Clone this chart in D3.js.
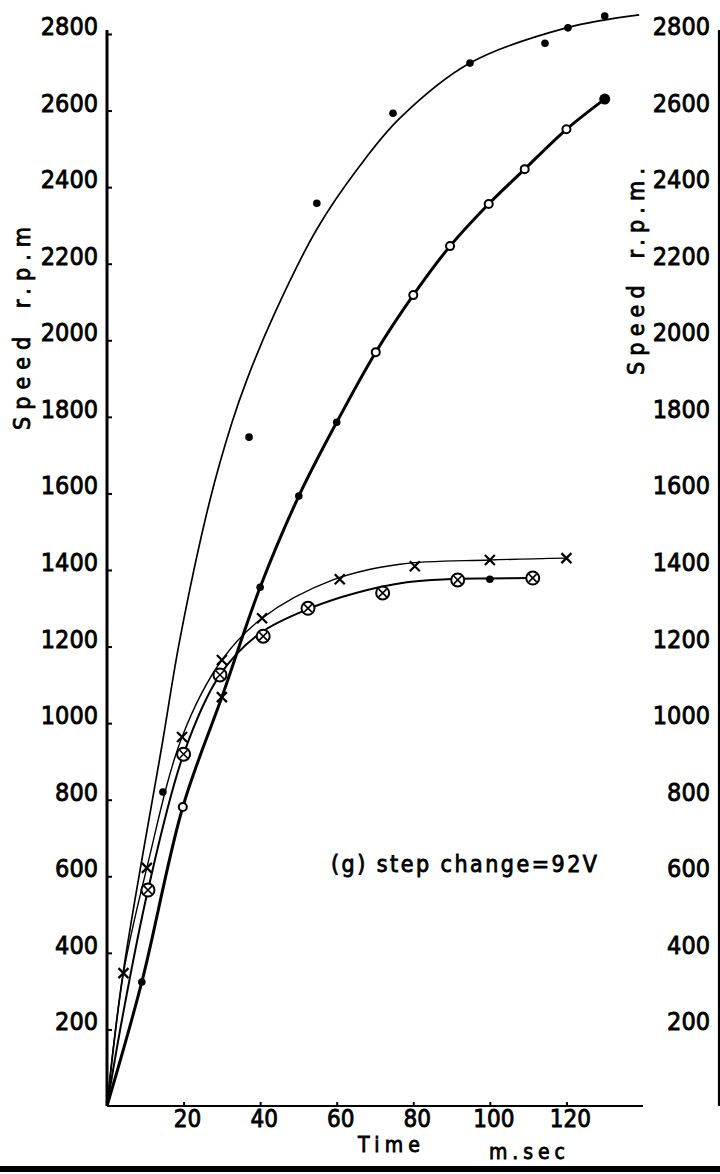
<!DOCTYPE html>
<html>
<head>
<meta charset="utf-8">
<script src="https://cdn.jsdelivr.net/npm/d3@7"></script>
<style>
  html, body { margin: 0; padding: 0; background: #fff; }
  svg { display: block; }
  text { font-family: "DejaVu Sans Condensed", "DejaVu Sans", sans-serif; font-stretch: condensed; fill: #000;
         stroke: #000; stroke-width: 0.8px; paint-order: stroke; }
</style>
</head>
<body>
<svg id="chart" width="720" height="1174"></svg>
<script>
// Speed response to a 92 V step change, four runs (time in ms, speed in r.p.m.)
const yTicks = [200, 400, 600, 800, 1000, 1200, 1400, 1600, 1800, 2000, 2200, 2400, 2600, 2800];
const xTicks = [20, 40, 60, 80, 100, 120];

// Run A: fastest rise (thin curve, filled dots)
const aCurveT = [0, 4.2, 14.6, 19, 26.9, 32.6, 36.5, 43.4, 54.8, 66, 76.5, 94.8, 120, 139];
const aCurveV = [0, 347, 956, 1217, 1583, 1784, 1896, 2062, 2290, 2455, 2580, 2724, 2816, 2850];
const aPointT = [14.6, 37.1, 54.8, 74.7, 94.8, 114.4, 120.4, 130];
const aPointV = [820, 1747, 2358, 2593, 2724, 2776, 2816, 2847];

// Run B: heavy curve with open circles
const bCurveT = [0, 9.1, 19.8, 30, 40, 50.1, 60, 70.2, 80, 89.6, 99.7, 109.1, 120, 130];
const bCurveV = [0, 324, 781, 1068, 1355, 1593, 1786, 1969, 2118, 2246, 2356, 2447, 2551, 2630];
const bPointT = [9.1, 19.8, 30, 40, 50.1, 60, 70.2, 80, 89.6, 99.7, 109.1, 120, 130];
const bPointV = [324, 781, 1068, 1355, 1593, 1786, 1969, 2118, 2246, 2356, 2447, 2551, 2630];
const bPointKind = ["dot", "open", "cross", "dot", "dot", "dot", "open", "open", "open", "open", "open", "open", "big"];

// Run C: crosses, levels off near 1430
const cCurveT = [0, 4.3, 10.4, 19.6, 30, 40.5, 59, 76.5, 100, 120];
const cCurveV = [0, 347, 622, 964, 1165, 1274, 1374, 1415, 1426, 1431];
const cPointT = [4.3, 10.4, 19.6, 30, 40.5, 60.8, 80.4, 100, 120];
const cPointV = [347, 622, 964, 1165, 1274, 1376, 1410, 1426, 1431];

// Run D: circled crosses, levels off near 1380
const dCurveT = [0, 4, 10.7, 20, 29.5, 40, 53, 65, 78.3, 88.8, 100, 111.2];
const dCurveV = [0, 230, 564, 919, 1126, 1235, 1300, 1340, 1368, 1376, 1378, 1379];
const dPointT = [10.7, 20, 29.5, 40.8, 52.5, 72, 91.6, 100, 111.2];
const dPointV = [564, 919, 1126, 1227, 1300, 1340, 1374, 1376, 1379];
const dPointKind = ["otimes", "otimes", "otimes", "otimes", "otimes", "otimes", "otimes", "dot", "otimes"];

const svg = d3.select("#chart");
const x = d3.scaleLinear().domain([0, 140]).range([107, 643]);
const y = d3.scaleLinear().domain([0, 2800]).range([1106, 34]);

const zip = (ts, vs) => ts.map((t, i) => [t, vs[i]]);
const line = d3.line().x(d => x(d[0])).y(d => y(d[1])).curve(d3.curveCatmullRom.alpha(0.5));

// Axes
const left = svg.append("g").attr("transform", `translate(${x(0)},0)`)
  .call(d3.axisRight(y).tickValues(yTicks).tickSize(5).tickFormat(""));
left.select(".domain").attr("stroke-width", 3).attr("d", `M0,${y(0)}V30`);
left.selectAll(".tick line").attr("stroke-width", 2);

const bottom = svg.append("g").attr("transform", `translate(0,${y(0)})`)
  .call(d3.axisTop(x).tickValues(xTicks).tickSize(4).tickFormat(""));
bottom.select(".domain").attr("stroke-width", 2.2).attr("d", `M${x(0)},0H${x(140)}`);
bottom.selectAll(".tick line").attr("stroke-width", 2);

svg.append("line").attr("x1", 719).attr("x2", 719).attr("y1", 30).attr("y2", y(0))
  .attr("stroke", "#000").attr("stroke-width", 2.2);

// Tick labels, left and right
svg.append("g").selectAll("text").data(yTicks).join("text")
  .attr("x", 98).attr("y", d => y(d) - 8).attr("dy", "0.36em")
  .attr("text-anchor", "end").attr("font-size", 25).text(d => d);
svg.append("g").selectAll("text").data(yTicks).join("text")
  .attr("x", 710).attr("y", d => y(d) - 8).attr("dy", "0.36em")
  .attr("text-anchor", "end").attr("font-size", 25).text(d => d);
svg.append("g").selectAll("text").data(xTicks).join("text")
  .attr("x", d => x(d) + 4).attr("y", 1118).attr("dy", "0.36em")
  .attr("text-anchor", "middle").attr("font-size", 24).text(d => d);

// Axis titles
svg.append("text").attr("x", 358).attr("y", 1144).attr("dy", "0.36em")
  .attr("font-size", 21).attr("textLength", 62).attr("lengthAdjust", "spacing").text("Time");
svg.append("text").attr("x", 489).attr("y", 1151).attr("dy", "0.36em")
  .attr("font-size", 21).attr("textLength", 76).attr("lengthAdjust", "spacing").text("m.sec");
svg.append("text").attr("transform", "translate(22,430) rotate(-90)").attr("dy", "0.36em")
  .attr("font-size", 23).attr("textLength", 203).attr("lengthAdjust", "spacing")
  .attr("word-spacing", 8).text("Speed r.p.m");
svg.append("text").attr("transform", "translate(636,375) rotate(-90)").attr("dy", "0.36em")
  .attr("font-size", 23).attr("textLength", 207).attr("lengthAdjust", "spacing")
  .attr("word-spacing", 8).text("Speed r.p.m.");

// Annotation
svg.append("text").attr("x", 331).attr("y", 864).attr("dy", "0.36em")
  .attr("font-size", 23).attr("textLength", 266).attr("lengthAdjust", "spacing")
  .text("(g) step change=92V");

// Curves
const curves = [
  { pts: zip(aCurveT, aCurveV), w: 1.7 },
  { pts: zip(bCurveT, bCurveV), w: 3 },
  { pts: zip(cCurveT, cCurveV), w: 1.4 },
  { pts: zip(dCurveT, dCurveV), w: 2 }
];
svg.append("g").selectAll("path").data(curves).join("path")
  .attr("d", d => line(d.pts)).attr("fill", "none").attr("stroke", "#000")
  .attr("stroke-width", d => d.w).attr("stroke-linejoin", "round");

// Markers
const mk = svg.append("g");
function drawMarker(t, v, kind) {
  const cx = x(t), cy = y(v);
  if (kind === "dot") {
    mk.append("circle").attr("cx", cx).attr("cy", cy).attr("r", 3.8).attr("fill", "#000");
  } else if (kind === "big") {
    mk.append("circle").attr("cx", cx).attr("cy", cy).attr("r", 5.5).attr("fill", "#000");
  } else if (kind === "open") {
    mk.append("circle").attr("cx", cx).attr("cy", cy).attr("r", 4).attr("fill", "#fff")
      .attr("stroke", "#000").attr("stroke-width", 2);
  } else if (kind === "cross") {
    const s = 5;
    mk.append("path").attr("d", `M${cx - s},${cy - s}L${cx + s},${cy + s}M${cx - s},${cy + s}L${cx + s},${cy - s}`)
      .attr("stroke", "#000").attr("stroke-width", 2.2);
  } else if (kind === "otimes") {
    const r = 6.5, s = r * 0.6;
    mk.append("circle").attr("cx", cx).attr("cy", cy).attr("r", r).attr("fill", "#fff")
      .attr("stroke", "#000").attr("stroke-width", 2);
    mk.append("path").attr("d", `M${cx - s},${cy - s}L${cx + s},${cy + s}M${cx - s},${cy + s}L${cx + s},${cy - s}`)
      .attr("stroke", "#000").attr("stroke-width", 1.6);
  }
}
aPointT.forEach((t, i) => drawMarker(t, aPointV[i], "dot"));
bPointT.forEach((t, i) => drawMarker(t, bPointV[i], bPointKind[i]));
cPointT.forEach((t, i) => drawMarker(t, cPointV[i], "cross"));
dPointT.forEach((t, i) => drawMarker(t, dPointV[i], dPointKind[i]));

// Heavy rule along the foot of the figure
svg.append("rect").attr("x", 0).attr("y", 1166).attr("width", 720).attr("height", 6).attr("fill", "#000");
</script>
</body>
</html>
